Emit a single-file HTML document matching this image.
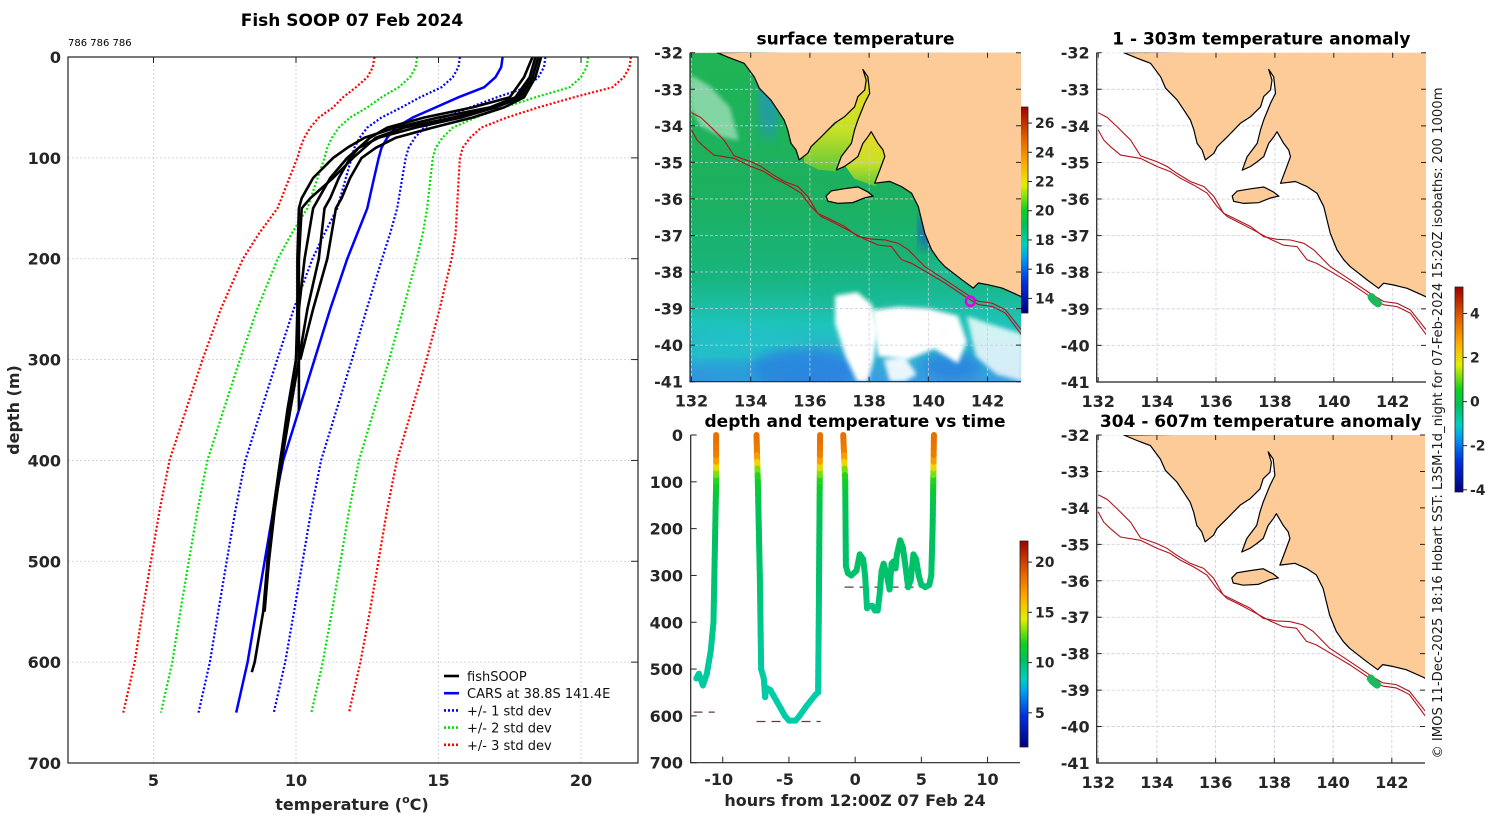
<!DOCTYPE html>
<html><head><meta charset="utf-8"><title>Fish SOOP 07 Feb 2024</title>
<style>
html,body{margin:0;padding:0;background:#fff;}
svg{display:block;font-family:"DejaVu Sans","Liberation Sans",sans-serif;}
.tk{font-size:16px;font-weight:bold;fill:#262626;}
.ti{font-size:17px;font-weight:bold;fill:#000;}
</style></head>
<body>
<svg id="fig" width="1500" height="820" viewBox="0 0 1500 820" xmlns="http://www.w3.org/2000/svg">
<defs>
<linearGradient id="jetv" x1="0" y1="1" x2="0" y2="0">
<stop offset="0" stop-color="#00007f"/><stop offset="0.15" stop-color="#0030e0"/><stop offset="0.27" stop-color="#00a0f0"/><stop offset="0.33" stop-color="#00d0c0"/><stop offset="0.42" stop-color="#00c060"/><stop offset="0.5" stop-color="#10d020"/><stop offset="0.62" stop-color="#e0f000"/><stop offset="0.72" stop-color="#ffb000"/><stop offset="0.85" stop-color="#e06000"/><stop offset="1" stop-color="#a00000"/>
</linearGradient>
<linearGradient id="sstg" x1="0" y1="0" x2="0" y2="1">
<stop offset="0" stop-color="#20b455"/><stop offset="0.45" stop-color="#1cb060"/><stop offset="0.68" stop-color="#18b47e"/><stop offset="0.83" stop-color="#1ec4bc"/><stop offset="1" stop-color="#3a9ee2"/>
</linearGradient>
<linearGradient id="gulfg" x1="0" y1="0" x2="0" y2="1">
<stop offset="0" stop-color="#f0d820"/><stop offset="0.6" stop-color="#c8e028"/><stop offset="1" stop-color="#60c838"/>
</linearGradient>
<filter id="blur6"><feGaussianBlur stdDeviation="6"/></filter>
<filter id="blur3"><feGaussianBlur stdDeviation="2"/></filter>
</defs>
</svg>
<script>
// ---------- DATA: left panel (CARS climatology + fishSOOP profiles) ----------
const carsDepth = [0,10,20,30,40,50,60,70,80,90,100,125,150,175,200,250,300,350,400,450,500,550,600,650];
const carsMean  = [17.25,17.2,17.0,16.6,15.7,14.9,14.1,13.5,13.2,13.0,12.9,12.7,12.5,12.15,11.8,11.2,10.65,10.1,9.55,9.2,8.9,8.6,8.3,7.9];
const carsSd    = [1.5,1.5,1.5,1.5,1.35,1.2,1.1,1.0,0.97,0.95,0.95,1.0,1.05,1.15,1.22,1.28,1.31,1.32,1.33,1.33,1.33,1.33,1.32,1.32];
const fsDepth = [0,20,40,50,60,70,80,90,100,120,140,150,200,250,300,350,400,450,500,550,600,610];
const fsP1 = [18.4,18.2,17.7,16.8,15.0,13.5,12.4,11.8,11.3,10.6,10.2,10.1,10.05,10.05,10.0,9.7,9.45,9.2,9.0,null,null,null];
const fsP2 = [18.5,18.3,17.9,17.0,15.8,14.2,12.9,12.2,11.8,11.2,10.8,10.6,10.3,10.1,10.0,9.75,9.45,9.2,9.0,8.85,8.55,8.45];
const fsP3 = [18.3,18.0,17.5,16.2,14.5,13.2,12.6,12.2,11.9,11.5,11.2,11.0,10.8,10.4,10.1,9.8,9.5,9.25,9.05,8.9,null,null];
const fsP4 = [18.6,18.4,18.0,17.3,16.2,14.8,13.5,12.8,12.3,11.9,11.6,11.4,11.1,10.6,10.15,null,null,null,null,null,null,null];
const fsP5 = [18.5,18.3,17.8,17.0,15.5,13.8,12.8,12.4,12.0,11.3,10.5,10.2,10.1,10.1,10.1,10.1,null,null,null,null,null,null];
const xTicksL = [5,10,15,20];
const yTicksL = [0,100,200,300,400,500,600,700];
// ---------- DATA: dives vs time ----------
const dive1H = [-12.0,-11.8,-11.5,-11.2,-10.9,-10.7,-10.6,-10.5,-10.5];
const dive1D = [520,510,535,510,460,400,250,100,0];
const dive2H = [-7.45,-7.35,-7.2,-7.1,-6.9,-6.8,-6.7,-6.4,-5.9,-5.3,-5.0,-4.5,-4.2,-3.7,-3.0,-2.8,-2.75,-2.7,-2.65];
const dive2D = [0,100,300,500,520,560,540,545,570,600,610,610,600,580,555,550,400,200,0];
const dive3H = [-0.9,-0.75,-0.7,-0.55,-0.3,0.1,0.35,0.6,0.75,0.9,1.1,1.3,1.5,1.7,1.85,2.0,2.15,2.4,2.6,2.75,2.9,3.05,3.15,3.4,3.6,3.8,4.0,4.2,4.4,4.6,4.8,5.0,5.3,5.6,5.75,5.85,5.9,5.95];
const dive3D = [0,100,280,295,300,290,255,265,300,370,365,365,375,375,340,290,275,300,330,275,270,285,255,225,240,280,325,310,255,265,300,320,325,320,300,200,100,0];
const bottomStart = [-12.2,-7.45,-0.8];
const bottomEnd   = [-10.6,-2.6,5.9];
const bottomDepth = [592,612,325];
const xTicksT = [-10,-5,0,5,10];
const yTicksT = [0,100,200,300,400,500,600,700];
// ---------- DATA: maps ----------
const lonTicks = [132,134,136,138,140,142];
const latTicks = [-32,-33,-34,-35,-36,-37,-38,-39,-40,-41];
const coastLon = [132.87,133.32,133.78,134.12,134.29,134.68,134.91,135.13,135.25,135.36,135.53,135.64,135.93,136.04,136.38,136.83,137.17,137.51,137.62,137.85,137.90,137.79,137.96,138.02,137.85,137.62,137.51,137.40,137.06,136.89,137.17,137.40,137.62,137.79,137.96,138.07,138.30,138.47,138.53,138.36,138.19,138.70,139.09,139.43,139.66,139.77,139.88,140.11,140.34,140.56,141.13,141.52,141.69,142.03,142.49,143.05,143.2,143.2];
const coastLat = [-32.00,-32.15,-32.29,-32.66,-32.97,-33.29,-33.57,-33.84,-34.11,-34.48,-34.66,-34.93,-34.75,-34.57,-34.30,-33.93,-33.75,-33.48,-33.20,-33.02,-32.75,-32.46,-32.66,-33.11,-33.38,-33.84,-34.11,-34.48,-34.84,-35.21,-35.11,-34.98,-34.84,-34.48,-34.30,-34.16,-34.48,-34.66,-34.84,-35.21,-35.57,-35.52,-35.66,-35.84,-36.21,-36.57,-36.94,-37.39,-37.66,-37.85,-38.21,-38.44,-38.30,-38.35,-38.44,-38.64,-38.70,-31.9];
const kiLon = [136.55,136.72,137.17,137.62,137.96,138.13,137.85,137.45,136.94,136.60];
const kiLat = [-35.92,-35.78,-35.72,-35.67,-35.81,-35.92,-35.97,-36.10,-36.12,-36.06];
const iso200Lon = [132.00,132.31,132.64,133.10,133.44,134.00,134.34,134.68,135.13,135.59,135.93,136.26,136.72,137.17,137.62,138.07,138.53,138.98,139.32,139.88,140.56,141.24,141.69,142.15,142.60,143.14];
const iso200Lat = [-33.64,-33.77,-34.02,-34.39,-34.82,-34.98,-35.11,-35.30,-35.52,-35.66,-35.93,-36.39,-36.57,-36.75,-37.03,-37.10,-37.12,-37.21,-37.39,-37.85,-38.21,-38.58,-38.80,-38.85,-39.03,-39.58];
const iso1000Lon = [132.00,132.19,132.42,132.76,133.44,134.00,134.45,134.79,135.25,135.70,136.04,136.38,136.83,137.28,137.85,138.30,138.75,139.09,139.43,140.00,140.56,141.24,141.69,142.15,142.60,143.14];
const iso1000Lat = [-34.11,-34.39,-34.57,-34.80,-34.89,-35.11,-35.25,-35.43,-35.62,-35.84,-36.21,-36.48,-36.66,-36.85,-37.10,-37.26,-37.30,-37.66,-37.76,-38.03,-38.30,-38.67,-38.89,-38.94,-39.12,-39.71];
const trackLon = [141.28,141.35,141.42,141.5];
const trackLat = [-38.68,-38.75,-38.8,-38.85];
const sstTicks = [14,16,18,20,22,24,26];
const tempTicks = [5,10,15,20];
const anomTicks = [-4,-2,0,2,4];

// ---------- helpers ----------
const NS = "http://www.w3.org/2000/svg";
const svg = document.getElementById('fig');
function mk(tag, attrs, parent){ const e=document.createElementNS(NS,tag); for(const k in attrs) e.setAttribute(k,attrs[k]); (parent||svg).appendChild(e); return e; }
function txt(s, x, y, cls, anchor, parent){ const e=mk('text',{x:x,y:y,'class':cls||'tk','text-anchor':anchor||'middle'},parent); e.textContent=s; return e; }
function clamp(v){return Math.max(0,Math.min(1,v));}
const cmPos = [0,0.15,0.27,0.33,0.42,0.5,0.62,0.72,0.85,1];
const cmRGB = [[0,0,127],[0,48,224],[0,160,240],[0,208,192],[0,192,96],[16,208,32],[224,240,0],[255,176,0],[224,96,0],[160,0,0]];
function jet(v){ v=clamp(v); let i=0; while(i<cmPos.length-2 && v>cmPos[i+1]) i++; const f=(v-cmPos[i])/(cmPos[i+1]-cmPos[i]); const c=cmRGB[i].map((a,j)=>Math.round(a+(cmRGB[i+1][j]-a)*f)); return 'rgb('+c.join(',')+')'; }
function interp(xs, ys, x){ for(let i=0;i<xs.length-1;i++){ if(x>=xs[i]&&x<=xs[i+1]){ const f=(x-xs[i])/(xs[i+1]-xs[i]); return ys[i]+f*(ys[i+1]-ys[i]); } } return x<xs[0]?ys[0]:ys[ys.length-1]; }

// ================= LEFT PANEL =================
const L = {x0:68,x1:638,y0:57,y1:763,tmin:2,tmax:22,dmax:700};
function xL(t){return L.x0+(t-L.tmin)/(L.tmax-L.tmin)*(L.x1-L.x0);}
function yL(d){return L.y0+d/L.dmax*(L.y1-L.y0);}
const gL = mk('g',{});


for(const t of xTicksL){
  const gl = mk('line',{x1:xL(t),x2:xL(t),y1:L.y0,y2:L.y1,stroke:'#c8cce8','stroke-width':0.8,'stroke-dasharray':'2,2'},gL);
  
  
  const lb = txt(String(t), xL(t), 786, 'tk','middle',gL);
  
  
}
for(const d of yTicksL){
  const gl = mk('line',{x1:L.x0,x2:L.x1,y1:yL(d),y2:yL(d),stroke:'#c8cce8','stroke-width':0.8,'stroke-dasharray':'2,2'},gL);
  
  
  const tk = mk('line',{x1:L.x1-7,x2:L.x1,y1:yL(d),y2:yL(d),stroke:'#222','stroke-width':1},gL);
  
  
  const lb = txt(String(d), 61, yL(d)+6, 'tk','end',gL);
  
  
}
for(const t of xTicksL){
  const tk = mk('line',{x1:xL(t),x2:xL(t),y1:L.y0,y2:L.y0+6,stroke:'#222','stroke-width':1},gL);
  
  
}
const sdColors = ['#0000ff','#00e000','#ff0000'];
const sdMult = [1,2,3];
for(let k=0;k<3;k++){
  for(const sgn of [-1,1]){
    let p='';
    carsDepth.forEach((d,i)=>{ p += (i?'L':'M')+xL(carsMean[i]+sgn*sdMult[k]*carsSd[i]).toFixed(1)+','+yL(d).toFixed(1); });
    const e = mk('path',{d:p,fill:'none',stroke:sdColors[k],'stroke-width':2.2,'stroke-dasharray':'2,2'},gL);
    
    
  }
}
{
  let p='';
  carsDepth.forEach((d,i)=>{ p += (i?'L':'M')+xL(carsMean[i]).toFixed(1)+','+yL(d).toFixed(1); });
  const e = mk('path',{d:p,fill:'none',stroke:'#0000ff','stroke-width':2.5},gL);
  
  
}
[fsP1,fsP2,fsP3,fsP4,fsP5].forEach((prof,pi)=>{
  let p='';
  let first=true;
  prof.forEach((t,i)=>{ if(t===null) return; p += (first?'M':'L')+xL(t).toFixed(1)+','+yL(fsDepth[i]).toFixed(1); first=false; });
  const e = mk('path',{d:p,fill:'none',stroke:'#000','stroke-width':2.6,'stroke-linejoin':'round'},gL);
  
  
});
{
  const b = mk('rect',{x:L.x0,y:L.y0,width:L.x1-L.x0,height:L.y1-L.y0,fill:'none',stroke:'#222','stroke-width':1.2},gL);
  
  
  const t = txt('Fish SOOP 07 Feb 2024', 352, 26, 'ti','middle',gL);
  
  
  const s = mk('text',{x:68,y:46,'font-size':10,fill:'#000'},gL);
  s.textContent='786 786 786';
  
  
  const xt = mk('text',{x:352,y:810,'text-anchor':'middle','class':'tk','font-size':17},gL);
  xt.innerHTML='temperature (<tspan font-size="11" dy="-7">o</tspan><tspan dy="7">C)</tspan>';
  
  
  const yt = mk('text',{x:0,y:0,'text-anchor':'middle','class':'tk',transform:'translate(19,410) rotate(-90)'},gL);
  yt.textContent='depth (m)';
  
  
}
const legLabels = ['fishSOOP','CARS at 38.8S 141.4E','+/- 1 std dev','+/- 2 std dev','+/- 3 std dev'];
const legColors = ['#000','#0000ff','#0000ff','#00e000','#ff0000'];
const legDash = ['none','none','2,2','2,2','2,2'];
const gLeg = mk('g',{},gL);


legLabels.forEach((s,i)=>{
  const y = 676 + i*17.2;
  const ln = mk('line',{x1:444,x2:459,y1:y,y2:y,stroke:legColors[i],'stroke-width':2.6,'stroke-dasharray':legDash[i]},gLeg);
  
  
  const t = mk('text',{x:467,y:y+5,'font-size':13,fill:'#111'},gLeg);
  t.textContent = s;
  
  
});

// ================= DEPTH vs TIME PANEL =================
const T = {x0:690.7,x1:1020,y0:435,y1:762.7,hmin:-12.42,hmax:12.45};
function xT(h){return T.x0+(h-T.hmin)/(T.hmax-T.hmin)*(T.x1-T.x0);}
function yT(d){return T.y0+d/700*(T.y1-T.y0);}
const gT = mk('g',{});


{
  const a1 = mk('path',{d:'M'+T.x0+','+T.y0+'V'+T.y1+'H'+T.x1,fill:'none',stroke:'#222','stroke-width':1.2},gT);
  
  
  const t = txt('depth and temperature vs time', 855, 427, 'ti','middle',gT);
  
  
  const xt = txt('hours from 12:00Z 07 Feb 24', 855, 806, 'tk','middle',gT);
  
  
}
for(const h of xTicksT){
  const tk = mk('line',{x1:xT(h),x2:xT(h),y1:T.y1,y2:T.y1-6,stroke:'#222'},gT);
  
  
  const lb = txt(String(h), xT(h)-(h<0?4:0), 785, 'tk','middle',gT);
  
  
}
for(const d of yTicksT){
  const tk = mk('line',{x1:T.x0,x2:T.x0+6,y1:yT(d),y2:yT(d),stroke:'#222'},gT);
  
  
  const lb = txt(String(d), 683, yT(d)+6, 'tk','end',gT);
  
  
}
bottomStart.forEach((h0,i)=>{
  const e = mk('line',{x1:xT(h0),x2:xT(bottomEnd[i]),y1:yT(bottomDepth[i]),y2:yT(bottomDepth[i]),stroke:'#5a4038','stroke-width':1.3,'stroke-dasharray':'9,6'},gT);
  
  
});
function tempAtDepth(d){ return interp(fsDepth.slice(0,20), fsP2.slice(0,20), d); }
[[dive1H,dive1D],[dive2H,dive2D],[dive3H,dive3D]].forEach((dv,di)=>{
  const H=dv[0], D=dv[1];
  const g = mk('g',{},gT);
  
  
  for(let i=0;i<H.length-1;i++){
    const steps = Math.max(1, Math.ceil(Math.abs(D[i+1]-D[i])/15));
    for(let s=0;s<steps;s++){
      const f0=s/steps, f1=(s+1)/steps;
      const ha=H[i]+(H[i+1]-H[i])*f0, hb=H[i]+(H[i+1]-H[i])*f1;
      const da=D[i]+(D[i+1]-D[i])*f0, db=D[i]+(D[i+1]-D[i])*f1;
      const t = tempAtDepth((da+db)/2);
      const seg = mk('line',{x1:xT(ha),y1:yT(da),x2:xT(hb),y2:yT(db),stroke:jet((t-1.6)/20.5),'stroke-width':6,'stroke-linecap':'round'},g);
      
      
    }
  }
});

// ================= COLORBARS =================
function colorbar(name, x, yTop, yBot, vmin, vmax, ticks){
  const g = mk('g',{});
  
  
  const r = mk('rect',{x:x,y:yTop,width:8,height:yBot-yTop,fill:'url(#jetv)',stroke:'#222','stroke-width':0.8},g);
  
  
  for(const t of ticks){
    const y = yBot-(t-vmin)/(vmax-vmin)*(yBot-yTop);
    const tk = mk('line',{x1:x+8,x2:x+12,y1:y,y2:y,stroke:'#222'},g);
    
    
    const lb = mk('text',{x:x+15,y:y+5,'font-size':14,'font-weight':'bold',fill:'#262626'},g);
    lb.textContent = String(t);
    
    
  }
}
colorbar('sst-colorbar',1020,107,313,13,27.1,sstTicks);
colorbar('dive-temp-colorbar',1020,541,747,1.6,22.1,tempTicks);
colorbar('anomaly-colorbar',1455,287,492,-4.1,5.2,anomTicks);

// ================= MAPS =================
let mapCount=0;
function drawMap(name, x0, x1, y0, y1, title, sst){
  mapCount++;
  const lon0=131.95, lon1=143.13, lat0=-32, lat1=-41;
  const mx = lon=> x0+(lon-lon0)/(lon1-lon0)*(x1-x0);
  const my = lat=> y0+(lat-lat0)/(lat1-lat0)*(y1-y0);
  const g = mk('g',{});
  
  
  const cp = mk('clipPath',{id:'clip'+mapCount},g);
  const cr = mk('rect',{x:x0,y:y0,width:x1-x0,height:y1-y0},cp);
  
  
  const inner = mk('g',{'clip-path':'url(#clip'+mapCount+')'},g);
  
  
  const poly = (lons,lats)=> lons.map((l,i)=>mx(l).toFixed(1)+','+my(lats[i]).toFixed(1)).join(' ');
  if(sst){
    const bg = mk('rect',{x:x0,y:y0,width:x1-x0,height:y1-y0,fill:'url(#sstg)'},inner);
    
    
    const blobs = [
      [134.0,-40.3,60,28,'#22c2c8',0.8],[135.8,-40.7,55,22,'#2a80e0',0.85],[133.0,-40.8,40,14,'#2e90e0',0.7],
      [140.8,-40.6,30,14,'#2a80e0',0.8],[134.6,-33.3,10,40,'#2a8ce0',0.6],[139.9,-36.9,7,18,'#1a50d0',0.8],
      [141.0,-38.0,30,14,'#20c0a0',0.6],[137.5,-38.5,40,20,'#18b890',0.5]
    ];
    blobs.forEach(b=>{
      const e = mk('ellipse',{cx:mx(b[0]),cy:my(b[1]),rx:b[2],ry:b[3],fill:b[4],opacity:b[5],filter:'url(#blur6)'},inner);
      
      
    });
    const clouds = [
      [[136.85,137.6,138.1,138.3,138.15,137.95,137.6,137.2,136.85],[-38.65,-38.55,-38.9,-39.6,-40.4,-41.0,-41.0,-40.3,-39.4],1],
      [[138.1,139.0,140.0,141.0,141.3,141.0,140.2,139.3,138.3],[-39.05,-38.95,-39.0,-39.2,-39.9,-40.5,-40.1,-40.4,-40.3],1],
      [[141.3,142.0,143.2,143.2,142.3,141.6],[-39.2,-39.4,-39.7,-41.0,-40.8,-40.3],0.8],
      [[138.5,139.2,139.6,139.2,138.7],[-40.4,-40.3,-40.8,-41.0,-41.0],0.9],
      [[131.95,132.6,133.3,133.6,133.0,132.3,131.95],[-32.6,-32.9,-33.5,-34.4,-34.3,-34.0,-33.5],0.45]
    ];
    clouds.forEach(c=>{
      const e = mk('polygon',{points:poly(c[0],c[1]),fill:'#fff',opacity:c[2],filter:'url(#blur3)'},inner);
      
      
    });
    const sg = mk('polygon',{points:poly([135.8,136.4,137.2,137.7,137.85,138.05,137.7,137.2,136.9,136.3,135.8],[-34.8,-34.3,-33.7,-33.1,-32.4,-33.1,-33.9,-34.8,-35.25,-35.2,-35.0]),fill:'url(#gulfg)'},inner);
    
    
    const gsv = mk('polygon',{points:poly([137.2,137.8,138.07,138.6,138.4,138.2,137.5],[-35.1,-34.4,-34.05,-34.8,-35.4,-35.65,-35.45]),fill:'url(#gulfg)'},inner);
    
    
  }
  for(const lo of lonTicks){
    const e = mk('line',{x1:mx(lo),x2:mx(lo),y1:y0,y2:y1,stroke:'#c8cce0','stroke-width':0.8,'stroke-dasharray':'3,2'},inner);
    
    
  }
  for(const la of latTicks){
    const e = mk('line',{x1:x0,x2:x1,y1:my(la),y2:my(la),stroke:'#c8cce0','stroke-width':0.8,'stroke-dasharray':'3,2'},inner);
    
    
  }
  const land = mk('polygon',{points:poly(coastLon,coastLat),fill:'#fdcb98',stroke:'#000','stroke-width':1.2,'stroke-linejoin':'round'},inner);
  
  
  const ki = mk('polygon',{points:poly(kiLon,kiLat),fill:'#fdcb98',stroke:'#000','stroke-width':1.2},inner);
  
  
  const i2 = mk('polyline',{points:poly(iso200Lon,iso200Lat),fill:'none',stroke:'#b0141c','stroke-width':1.1},inner);
  
  
  const i1 = mk('polyline',{points:poly(iso1000Lon,iso1000Lat),fill:'none',stroke:'#b0141c','stroke-width':1.1},inner);
  
  
  if(sst){
    const c = mk('circle',{cx:mx(141.42),cy:my(-38.8),r:4.5,fill:'none',stroke:'#e000e0','stroke-width':2.5},inner);
    
    
  } else {
    const tr = mk('polyline',{points:poly(trackLon,trackLat),fill:'none',stroke:'#1cb860','stroke-width':8,'stroke-linecap':'round'},inner);
    
    
  }
  const ax = mk('path',{d:'M'+x0+','+y0+'V'+y1+'H'+x1,fill:'none',stroke:'#222','stroke-width':1.2},g);
  
  
  for(const lo of lonTicks){
    const tk = mk('path',{d:'M'+mx(lo)+','+y1+'v-5M'+mx(lo)+','+y0+'v5',stroke:'#222'},g);
    
    
    const lb = txt(String(lo), mx(lo), y1+25, 'tk','middle',g);
    
    
  }
  for(const la of latTicks){
    const tk = mk('path',{d:'M'+x0+','+my(la)+'h5M'+x1+','+my(la)+'h-5',stroke:'#222'},g);
    
    
    const lb = txt(String(la), x0-7, my(la)+6, 'tk','end',g);
    
    
  }
  const t = txt(title, (x0+x1)/2, y0-8, 'ti','middle',g);
  
  
}
drawMap('sst-map',690,1021,52.7,381.7,'surface temperature',true);
drawMap('anomaly-map-shallow',1096.7,1426,52.7,382,'1 - 303m temperature anomaly',false);
drawMap('anomaly-map-deep',1096.7,1425,435,763,'304 - 607m temperature anomaly',false);

{
  const c = mk('text',{x:0,y:0,'font-size':13.2,fill:'#1a1a1a','text-anchor':'middle',transform:'translate(1442,423) rotate(-90)'});
  c.textContent = '\u00A9 IMOS 11-Dec-2025 18:16 Hobart SST: L3SM-1d_night for 07-Feb-2024 15:20Z isobaths: 200  1000m';
  
  
}
</script>
</body></html>
